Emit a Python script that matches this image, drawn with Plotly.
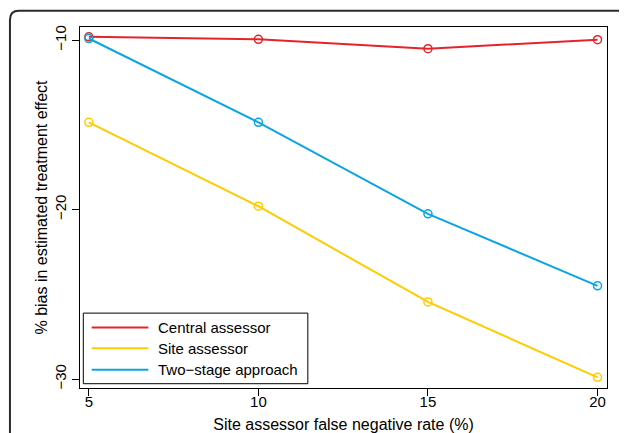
import plotly.graph_objects as go

rates = [5, 10, 15, 20]
central = [-9.8, -9.95, -10.5, -9.97]
site = [-14.85, -19.8, -25.45, -29.9]
two_stage = [-9.9, -14.85, -20.25, -24.5]
series_names = ["Central assessor", "Site assessor", "Two\u2212stage approach"]
colors = ["#E3242B", "#FFCC00", "#0BA5E0"]
x_ticks = [5, 10, 15, 20]
y_ticks = [-10, -20, -30]

# the page body adds an 8px offset, so the figure is laid out 8px smaller
OFF = 8
W, H = 627 - OFF, 433 - OFF
L, T = 80 - OFF, 26.7 - OFF
pw, ph = 526.7, 361.6
R, B = W - L - pw, H - T - ph


def px_x(p):
    return (p - OFF - L) / pw


def px_y(p):
    return (T + ph - (p - OFF)) / ph


fig = go.Figure()
for name, vals, col in zip(series_names, [central, site, two_stage], colors):
    fig.add_trace(go.Scatter(
        x=rates, y=vals, mode="lines+markers", name=name, showlegend=False,
        line=dict(color=col, width=2),
        marker=dict(symbol="circle-open", size=8, color=col,
                    line=dict(width=1.5, color=col)),
    ))

font = dict(family="Liberation Sans, Arial, sans-serif", size=15, color="#000000")
title_font = dict(family="Liberation Sans, Arial, sans-serif", size=16, color="#000000")

shapes = []
# outer rounded frame (clipped by the page)
x0, x1 = px_x(10), px_x(629)
y0, y1 = px_y(10.5), px_y(460)
rx, ry = 9 / pw, 9 / ph
path = (f"M{x0},{y1} L{x0},{y0 - ry} Q{x0},{y0} {x0 + rx},{y0} "
        f"L{x1 - rx},{y0} Q{x1},{y0} {x1},{y0 - ry} L{x1},{y1}")
shapes.append(dict(type="path", path=path, xref="paper", yref="paper",
                   line=dict(color="#2b2b2b", width=2), layer="below"))

# legend box
shapes.append(dict(type="rect", xref="paper", yref="paper",
                   x0=px_x(83.3), x1=px_x(307.7), y0=px_y(384), y1=px_y(313.3),
                   line=dict(color="#000000", width=1), fillcolor="white", layer="above"))
annotations = []
legend_y = [327.7, 348.5, 370]
for name, col, ly in zip(series_names, colors, legend_y):
    shapes.append(dict(type="line", xref="paper", yref="paper",
                       x0=px_x(91.7), x1=px_x(148.3), y0=px_y(ly), y1=px_y(ly),
                       line=dict(color=col, width=2), layer="above"))
    annotations.append(dict(text=name, xref="paper", yref="paper",
                            x=px_x(156), y=px_y(ly), xanchor="left", yanchor="middle",
                            showarrow=False, font=font))

fig.update_layout(
    width=W, height=H,
    margin=dict(l=L, r=R, t=T, b=B, pad=0, autoexpand=False),
    paper_bgcolor="white", plot_bgcolor="white",
    font=font, showlegend=False,
    shapes=shapes, annotations=annotations,
    xaxis=dict(
        range=[4.74, 20.28], tickvals=x_ticks, ticks="outside", ticklen=7,
        tickcolor="#000000", showgrid=False, zeroline=False, automargin=False,
        showline=True, mirror=True, linecolor="#000000", linewidth=1,
        ticklabelstandoff=-7,
        title=dict(text="Site assessor false negative rate (%)", font=title_font, standoff=9),
        tickfont=font,
    ),
    yaxis=dict(
        range=[-30.53, -9.22], tickvals=y_ticks, ticks="outside", ticklen=7,
        tickcolor="#000000", showgrid=False, zeroline=False, tickangle=-90,
        automargin=False, ticklabelstandoff=0,
        showline=True, mirror=True, linecolor="#000000", linewidth=1,
        title=dict(text="% bias in estimated treatment effect", font=title_font, standoff=0),
        tickfont=font,
    ),
)

fig.write_html("out.html")
